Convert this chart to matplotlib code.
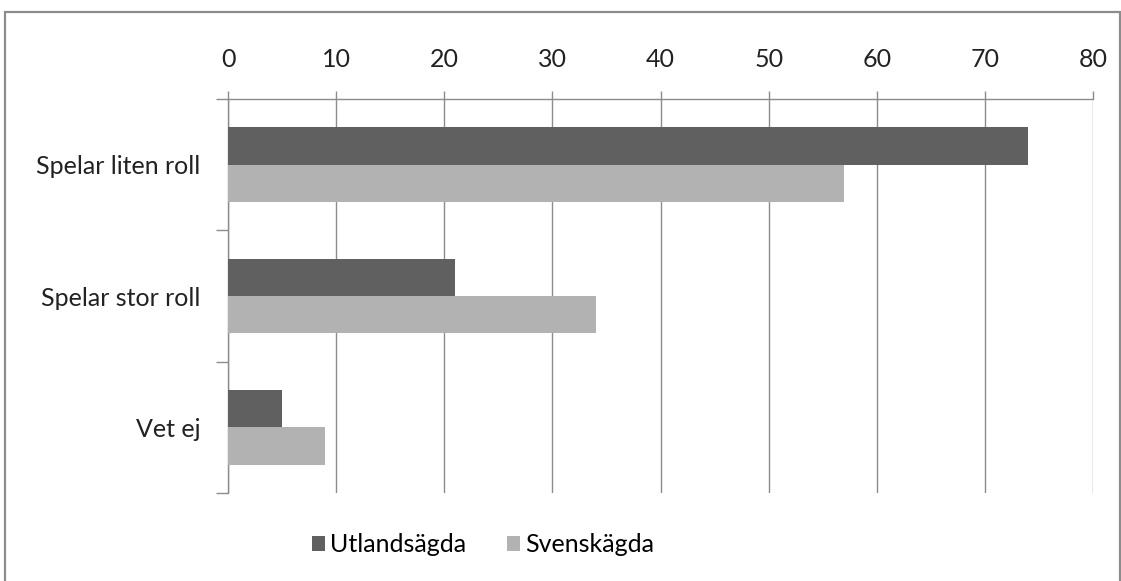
#!/usr/bin/env python3
"""Horisontellt stapeldiagram: utlandsägda vs svenskägda företag."""

import matplotlib
matplotlib.use("Agg")
import matplotlib.pyplot as plt
import numpy as np
from matplotlib.patches import Rectangle

categories = ["Spelar liten roll", "Spelar stor roll", "Vet ej"]
utlandsagda = [74, 21, 5]
svenskagda = [57, 34, 9]
series_labels = ["Utlandsägda", "Svenskägda"]
x_ticks = [0, 10, 20, 30, 40, 50, 60, 70, 80]

DARK = "#606060"
LIGHT = "#b2b2b2"
GRID = "#8c8c8c"
FS = 18

plt.rcParams["font.family"] = ["Lato", "DejaVu Sans"]

fig = plt.figure(figsize=(11.21, 5.81), dpi=100)
ax = fig.add_axes([228 / 1121, 1 - 493 / 581, (1093 - 228) / 1121, (493 - 99) / 581])

# outer chart frame
fig.patches.append(Rectangle((5 / 1121, -0.05), 1115 / 1121, 1.05 - 12 / 581,
                             transform=fig.transFigure, fill=False,
                             edgecolor="#8c8c8c", linewidth=1.6))

y = np.arange(len(categories))
h = 0.285
ax.barh(y - h / 2, utlandsagda, height=h, color=DARK, label=series_labels[0], zorder=3)
ax.barh(y + h / 2, svenskagda, height=h, color=LIGHT, label=series_labels[1], zorder=3)

ax.set_xlim(0, 80)
ax.set_ylim(len(categories) - 0.5, -0.5)
ax.xaxis.tick_top()
ax.set_xticks(x_ticks)
ax.tick_params(axis="x", length=6, color=GRID, width=1, pad=14, labelsize=FS, labelcolor="#222222")
ax.grid(axis="x", color=GRID, linewidth=1, zorder=0)

ax.set_yticks(y)
ax.set_yticklabels(categories)
ax.set_yticks(np.arange(len(categories) + 1) - 0.5, minor=True)
ax.tick_params(axis="y", which="major", length=0, pad=20, labelsize=FS, labelcolor="#222222")
ax.tick_params(axis="y", which="minor", length=9, color=GRID, width=1)

for side in ("right", "bottom"):
    ax.spines[side].set_visible(False)
for side in ("top", "left"):
    ax.spines[side].set_color(GRID)
    ax.spines[side].set_linewidth(1)

fig.legend(loc="center", bbox_to_anchor=(483 / 1121, 1 - 545 / 581), ncol=2,
           frameon=False, fontsize=FS, handlelength=0.55, handleheight=0.55,
           handletextpad=0.2, columnspacing=1.6)

fig.savefig("out.png", dpi=100)
